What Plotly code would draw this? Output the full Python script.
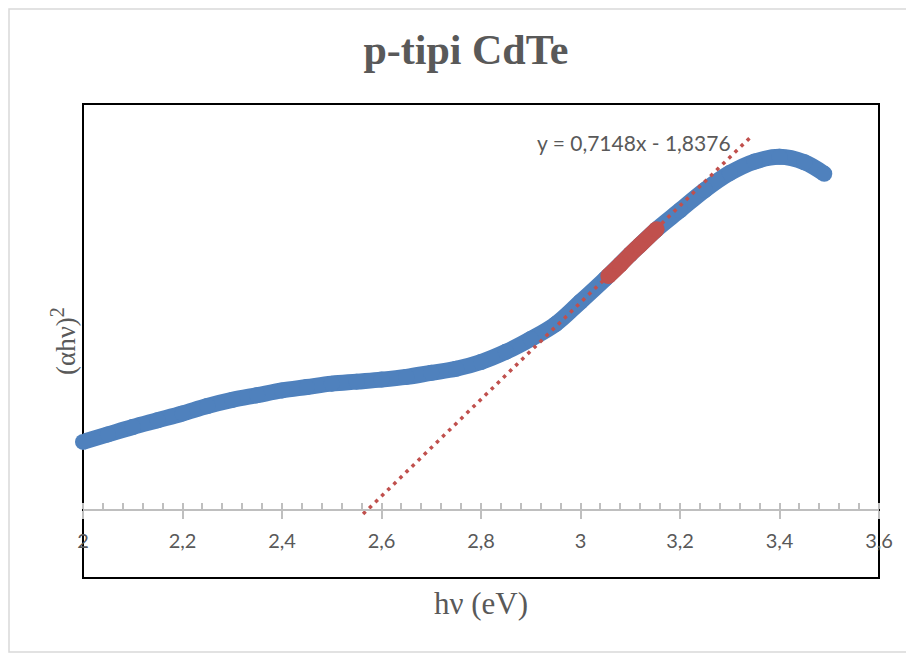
import plotly.graph_objects as go

# ---- data ----
hv = [2.00, 2.05, 2.10, 2.15, 2.20, 2.25, 2.30, 2.35, 2.40, 2.45, 2.50, 2.55,
      2.60, 2.65, 2.70, 2.75, 2.80, 2.85, 2.90, 2.95, 3.00, 3.05, 3.10, 3.15,
      3.20, 3.25, 3.30, 3.35, 3.40, 3.45, 3.49]
ahv2 = [0.101, 0.112, 0.123, 0.133, 0.143, 0.154, 0.163, 0.170, 0.177, 0.182,
        0.187, 0.190, 0.193, 0.197, 0.203, 0.209, 0.219, 0.234, 0.253, 0.275,
        0.308, 0.342, 0.378, 0.413, 0.443, 0.473, 0.498, 0.515, 0.522, 0.514,
        0.497]

fit_hv = [3.056, 3.08, 3.10, 3.12, 3.153]
fit_ahv2 = [0.346, 0.363, 0.378, 0.392, 0.415]

slope = 0.7148
intercept = -1.8376
trend_hv = [2.563, 3.345]
trend_y = [slope * v + intercept for v in trend_hv]

x_range = [2.0, 3.6]
y_range = [-0.1, 0.6]
major_ticks = [2.0, 2.2, 2.4, 2.6, 2.8, 3.0, 3.2, 3.4, 3.6]

BLUE = "#4F81BD"
RED = "#C0504D"
GRAY = "#595959"
AXIS = "#BFBFBF"

# page offset (browser body margin) is 8 px; figure is sized so it ends at window edge
W, H = 906, 645
OFF = 8

fig = go.Figure()

fig.add_trace(go.Scatter(
    x=hv, y=ahv2, mode="lines+markers",
    line=dict(color=BLUE, width=16, shape="spline", smoothing=1.0),
    marker=dict(color=BLUE, size=16),
    cliponaxis=False, showlegend=False, hoverinfo="skip"))

fig.add_trace(go.Scatter(
    x=fit_hv, y=fit_ahv2, mode="lines+markers",
    line=dict(color=RED, width=16, shape="spline"),
    marker=dict(color=RED, size=16),
    cliponaxis=False, showlegend=False, hoverinfo="skip"))

fig.add_trace(go.Scatter(
    x=trend_hv, y=trend_y, mode="lines", xaxis="x2",
    line=dict(color=RED, width=3.5, dash="3.5px,5px"),
    showlegend=False, hoverinfo="skip"))

zero_pos = (0 - y_range[0]) / (y_range[1] - y_range[0])

fig.update_layout(
    width=W, height=H,
    margin=dict(l=75, r=35, t=96, b=75),
    paper_bgcolor="white", plot_bgcolor="white",
    separators=", ",
    title=dict(text="<b>p-tipi CdTe</b>", x=(466 - OFF) / W, xanchor="center",
               y=1 - (49 - OFF) / H, yanchor="middle",
               xref="container", yref="container",
               font=dict(family="Liberation Serif", size=42, color=GRAY)),
    xaxis=dict(range=x_range, anchor="free", position=zero_pos,
               showgrid=False, zeroline=False,
               showline=True, linecolor=AXIS, linewidth=2,
               tickvals=major_ticks, ticks="outside", ticklen=8,
               tickcolor=AXIS, tickwidth=1.5,
               ticklabelstandoff=5,
               tickfont=dict(family="Lato", size=20, color=GRAY),
               minor=dict(dtick=0.04, tick0=2.0, ticks="inside", ticklen=6,
                          tickcolor=AXIS, tickwidth=1.5, showgrid=False)),
    xaxis2=dict(range=x_range, overlaying="x", anchor="free", position=zero_pos,
                showgrid=False, zeroline=False, showline=False,
                tickvals=major_ticks, ticks="inside", ticklen=7,
                tickcolor=AXIS, tickwidth=1.5, showticklabels=False),
    yaxis=dict(range=y_range, showgrid=False, zeroline=False,
               showticklabels=False, ticks="", showline=False),
    shapes=[
        dict(type="rect", xref="paper", yref="paper", x0=0, x1=1, y0=0, y1=1,
             line=dict(color="black", width=2), layer="below"),
        dict(type="rect", xref="paper", yref="paper",
             x0=(9 - 83) / 796, x1=1.2,
             y0=(578 - 652) / 474, y1=(578 - 9) / 474,
             line=dict(color="#D9D9D9", width=1.5), layer="below"),
    ],
    annotations=[
        dict(text="y = 0,7148x - 1,8376", xref="paper", yref="paper",
             x=(634 - 83) / 796, y=(578 - 142) / 474, showarrow=False,
             xanchor="center", yanchor="middle",
             font=dict(family="Lato", size=21, color=GRAY)),
        dict(text="hν (eV)", xref="paper", yref="paper",
             x=(481 - 83) / 796, y=(578 - 603) / 474, showarrow=False,
             xanchor="center", yanchor="middle",
             font=dict(family="Liberation Serif", size=31, color=GRAY)),
        dict(text="(αhν)<sup><span style='font-size:20px'>2</span></sup>",
             xref="paper", yref="paper",
             x=(63 - 83) / 796, y=(578 - 341) / 474, showarrow=False,
             textangle=-90, xanchor="center", yanchor="middle",
             font=dict(family="Liberation Serif", size=27, color=GRAY)),
    ],
)

fig.write_html("out.html")
